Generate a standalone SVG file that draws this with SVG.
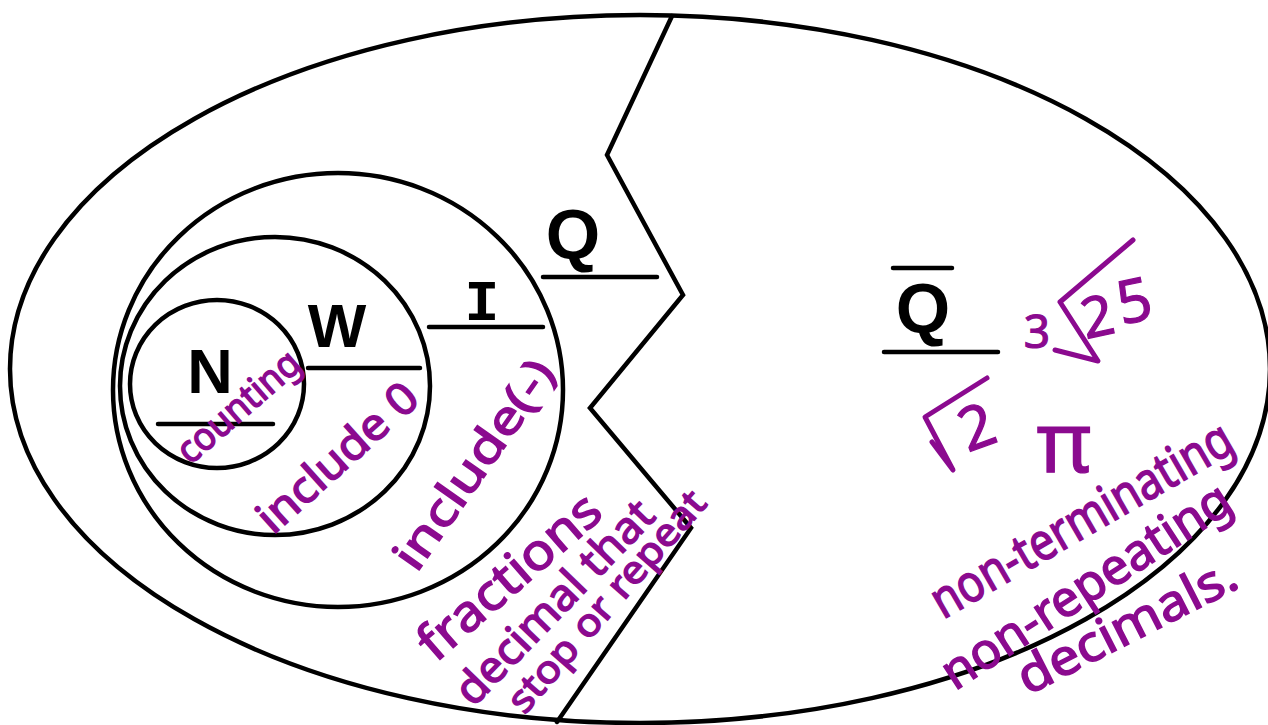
<svg xmlns="http://www.w3.org/2000/svg" width="1268" height="725" viewBox="0 0 1268 725">
<style>
.ln{fill:none;stroke:#000;stroke-width:4.5;stroke-linecap:round;stroke-linejoin:miter}
.lbl{font-family:"Liberation Sans",Arial,sans-serif;font-weight:bold;fill:#000;text-anchor:middle}
.hw{font-family:"Noto Sans","DejaVu Sans",sans-serif;fill:#8b0a8f;stroke:#8b0a8f;stroke-width:1.5;text-anchor:middle;dominant-baseline:central}
.m{font-family:"Noto Sans","DejaVu Sans",sans-serif;fill:#8b0a8f;stroke:#8b0a8f;stroke-width:1.2;text-anchor:middle}
.pl{fill:none;stroke:#8b0a8f;stroke-width:5;stroke-linecap:round;stroke-linejoin:round}
</style>
<rect width="1268" height="725" fill="#fff"/>
<g id="real-numbers">
<ellipse class="ln" cx="640" cy="369" rx="630" ry="354"/>
</g>
<g id="divider">
<polyline class="ln" points="672,16 607,155 683,295 590,408 691,528 557,722"/>
</g>
<g id="integers">
<ellipse class="ln" cx="338" cy="390" rx="225" ry="217"/>
<text class="lbl" x="482" y="320" font-size="58" style="font-family:'Liberation Mono','DejaVu Sans Mono',monospace">I</text>
<line class="ln" x1="429" y1="327" x2="543" y2="327"/>
<text class="hw" x="472" y="463" font-size="46" textLength="245" lengthAdjust="spacingAndGlyphs" transform="rotate(-55 472 463)">include(-)</text>
</g>
<g id="whole">
<ellipse class="ln" cx="275" cy="386" rx="155" ry="149"/>
<text class="lbl" x="337" y="347" font-size="62">W</text>
<line class="ln" x1="308" y1="368" x2="420" y2="368"/>
<text class="hw" x="336" y="456" font-size="44" textLength="200" lengthAdjust="spacingAndGlyphs" transform="rotate(-42 336 456)">include 0</text>
</g>
<g id="natural">
<ellipse class="ln" cx="217" cy="384" rx="87" ry="84"/>
<text class="lbl" x="210" y="393" font-size="63">N</text>
<line class="ln" x1="158" y1="424" x2="273" y2="424"/>
<text class="hw" x="237" y="405" font-size="38" textLength="150" lengthAdjust="spacingAndGlyphs" transform="rotate(-41 237 405)">counting</text>
</g>
<g id="rational">
<text class="lbl" x="573" y="259" font-size="70">Q</text>
<line class="ln" x1="543" y1="277" x2="657" y2="277"/>
<text class="hw" x="508" y="575" font-size="50" textLength="225" lengthAdjust="spacingAndGlyphs" transform="rotate(-41 508 575)">fractions</text>
<text class="hw" x="553" y="601" font-size="44" textLength="265" lengthAdjust="spacingAndGlyphs" transform="rotate(-46 553 601)">decimal that</text>
<text class="hw" x="605" y="600" font-size="38" textLength="280" lengthAdjust="spacingAndGlyphs" transform="rotate(-49 605 600)">stop or repeat</text>
</g>
<g id="irrational">
<line class="ln" x1="893" y1="268" x2="952" y2="268"/>
<text class="lbl" x="923" y="333" font-size="70">Q</text>
<line class="ln" x1="884" y1="352" x2="998" y2="352"/>
<text class="m" x="1037" y="348" font-size="46">3</text>
<polyline class="pl" points="1055,350 1098,361 1060,302 1133,240"/>
<text class="m" x="1098" y="336" font-size="56" transform="rotate(-12 1098 320)">2</text>
<text class="m" x="1134" y="322" font-size="60" transform="rotate(-12 1134 300)">5</text>
<polyline class="pl" points="932,442 953,470 925,417 987,378"/>
<text class="m" x="976" y="448" font-size="60" transform="rotate(-20 976 425)">2</text>
<text class="m" x="1064" y="472" font-size="84">π</text>
<text class="hw" x="1080" y="517" font-size="52" textLength="340" lengthAdjust="spacingAndGlyphs" transform="rotate(-30 1080 517)">non-terminating</text>
<text class="hw" x="1085" y="584" font-size="50" textLength="335" lengthAdjust="spacingAndGlyphs" transform="rotate(-33 1085 584)">non-repeating</text>
<text class="hw" x="1126" y="624" font-size="50" textLength="240" lengthAdjust="spacingAndGlyphs" transform="rotate(-27 1126 624)">decimals.</text>
</g>
</svg>
